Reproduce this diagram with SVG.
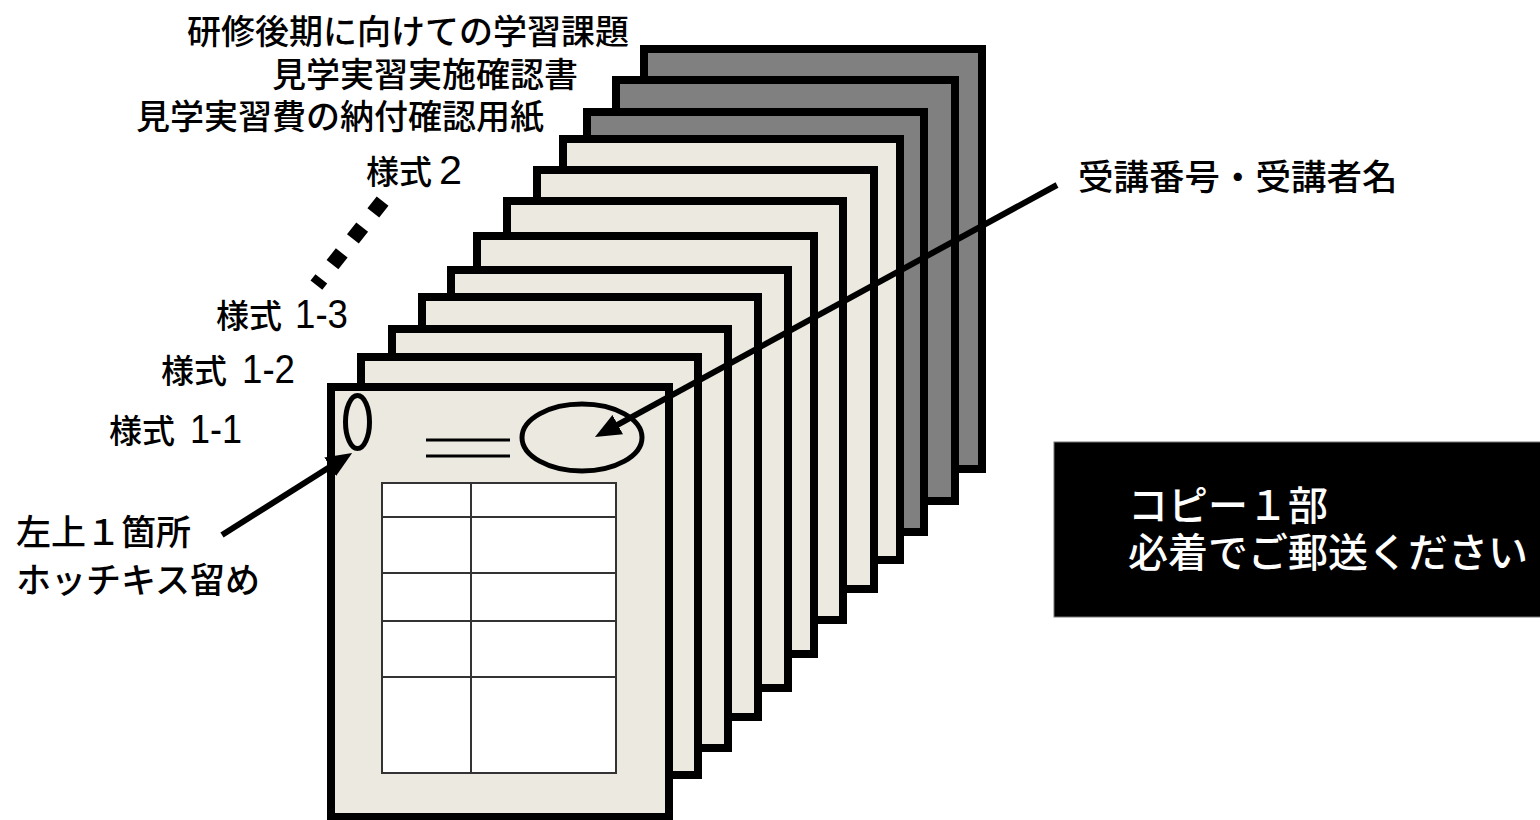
<svg xmlns="http://www.w3.org/2000/svg" width="1540" height="820" viewBox="0 0 1540 820">
  <style>
    .page { stroke: #000; stroke-width: 8; }
    .light { fill: #ECEAE0; }
    .dark { fill: #808080; }
    .jp { font-family: "Noto Sans CJK JP", "Noto Sans", sans-serif; font-weight: 500; fill: #000; }
    .num { font-family: "Liberation Sans", "DejaVu Sans", sans-serif; fill: #000; }
    .grid { fill: none; stroke: #333; stroke-width: 2; }
    .arrow { stroke: #000; stroke-width: 6; fill: none; marker-end: url(#head); }
  </style>
  <defs>
    <marker id="head" markerUnits="userSpaceOnUse" markerWidth="26" markerHeight="22" refX="14" refY="11" orient="auto">
      <path d="M0,0 L26,11 L0,22 z" fill="#000"/>
    </marker>
  </defs>

  <rect width="1540" height="820" fill="#fff"/>

  <!-- stacked sheets, back to front -->
  <g id="sheet-12"><rect class="page dark" x="644" y="49" width="338" height="420"/></g>
  <g id="sheet-11"><rect class="page dark" x="616" y="80" width="339" height="421"/></g>
  <g id="sheet-10"><rect class="page dark" x="587" y="112" width="337" height="420"/></g>
  <g id="sheet-9"><rect class="page light" x="563" y="139" width="337" height="421"/></g>
  <g id="sheet-8"><rect class="page light" x="537" y="170" width="337" height="419"/></g>
  <g id="sheet-7"><rect class="page light" x="507" y="201" width="336" height="419"/></g>
  <g id="sheet-6"><rect class="page light" x="477" y="236" width="337" height="418"/></g>
  <g id="sheet-5"><rect class="page light" x="451" y="270" width="337" height="418"/></g>
  <g id="sheet-4"><rect class="page light" x="422" y="297" width="336" height="420"/></g>
  <g id="sheet-3"><rect class="page light" x="392" y="329" width="336" height="419"/></g>
  <g id="sheet-2"><rect class="page light" x="361" y="357" width="337" height="418"/></g>

  <!-- front sheet with its form layout -->
  <g id="sheet-1">
    <rect class="page light" x="331" y="387" width="338" height="430"/>
    <ellipse cx="357.5" cy="422" rx="12" ry="26.5" fill="none" stroke="#000" stroke-width="5"/>
    <line x1="426" y1="440" x2="510" y2="440" stroke="#000" stroke-width="3"/>
    <line x1="426" y1="456" x2="510" y2="456" stroke="#000" stroke-width="3"/>
    <ellipse cx="582" cy="437.5" rx="60" ry="33.5" fill="none" stroke="#000" stroke-width="5"/>
    <rect x="382" y="483" width="234" height="290" fill="#fff"/>
    <rect class="grid" x="382" y="483" width="234" height="290"/>
    <path class="grid" d="M471,483 V773 M382,517 H616 M382,573 H616 M382,621 H616 M382,677 H616"/>
  </g>

  <!-- sheet titles -->
  <g id="titles">
    <text class="jp" x="187" y="44" font-size="34">研修後期に向けての学習課題</text>
    <text class="jp" x="272" y="87" font-size="34">見学実習実施確認書</text>
    <text class="jp" x="136" y="129" font-size="34">見学実習費の納付確認用紙</text>
  </g>

  <g id="label-form2">
    <text class="jp" x="366" y="184" font-size="33">様式</text>
    <text class="num" x="439" y="184" font-size="40" textLength="23" lengthAdjust="spacingAndGlyphs">2</text>
  </g>
  <g id="label-form1-3">
    <text class="jp" x="216" y="328" font-size="33">様式</text>
    <text class="num" x="295" y="328" font-size="40" textLength="53" lengthAdjust="spacingAndGlyphs">1-3</text>
  </g>
  <g id="label-form1-2">
    <text class="jp" x="161" y="383" font-size="33">様式</text>
    <text class="num" x="242" y="383" font-size="40" textLength="53" lengthAdjust="spacingAndGlyphs">1-2</text>
  </g>
  <g id="label-form1-1">
    <text class="jp" x="109" y="443" font-size="33">様式</text>
    <text class="num" x="190" y="443" font-size="40" textLength="52" lengthAdjust="spacingAndGlyphs">1-1</text>
  </g>

  <g id="label-staple">
    <text class="jp" x="16" y="545" font-size="35">左上１箇所</text>
    <text class="jp" x="16" y="593" font-size="35">ホッチキス留め</text>
  </g>

  <g id="label-name">
    <text class="jp" x="1078" y="190" font-size="35.5">受講番号・受講者名</text>
  </g>

  <g id="notice">
    <rect x="1054" y="442" width="490" height="175" fill="#000" stroke="#777" stroke-width="1"/>
    <text class="jp" x="1128" y="520" font-size="40" style="fill:#fff">コピー１部</text>
    <text class="jp" x="1128" y="567" font-size="40" style="fill:#fff">必着でご郵送ください</text>
  </g>

  <!-- connectors -->
  <g id="connectors">
    <line x1="382.6" y1="201.1" x2="316.4" y2="285.1" stroke="#000" stroke-width="15" stroke-dasharray="15 18"/>
    <line class="arrow" x1="1057" y1="185" x2="605.5" y2="431.3"/>
    <line class="arrow" x1="222" y1="535" x2="342" y2="459.3"/>
  </g>
</svg>
